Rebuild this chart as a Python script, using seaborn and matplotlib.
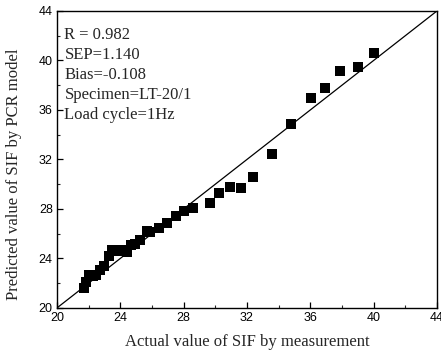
import matplotlib
matplotlib.use('Agg')
import matplotlib.pyplot as plt
import seaborn as sns
import pandas as pd

# Valores
actual = [21.7, 21.85, 22.05, 22.3, 22.5, 22.7, 22.95, 23.3, 23.5, 23.8,
          24.05, 24.4, 24.65, 24.9, 25.25, 25.7, 25.9, 26.45, 26.95, 27.5,
          28.0, 28.6, 29.65, 30.25, 30.95, 31.6, 32.35, 33.6, 34.75, 36.05,
          36.95, 37.9, 39.0, 40.0]
predicted = [21.6, 22.1, 22.7, 22.6, 22.7, 23.05, 23.4, 24.2, 24.7, 24.6,
             24.7, 24.5, 25.1, 25.2, 25.5, 26.2, 26.1, 26.5, 26.85, 27.45,
             27.8, 28.05, 28.45, 29.3, 29.8, 29.7, 30.6, 32.45, 34.85, 36.95,
             37.75, 39.15, 39.5, 40.6]
ideal = [20, 44]
ticks = [20, 24, 28, 32, 36, 40, 44]
minor_ticks = [22, 26, 30, 34, 38, 42]
info = ['R = 0.982', 'SEP=1.140', 'Bias=-0.108', 'Specimen=LT-20/1', 'Load cycle=1Hz']

df = pd.DataFrame({'Actual': actual, 'Predicted': predicted})

sns.set_style('ticks')
plt.rcParams['font.family'] = ['Liberation Sans', 'DejaVu Sans']

fig = plt.figure(figsize=(4.41, 3.52), dpi=100)
ax = fig.add_axes([0.129, 0.125, 0.862, 0.844])

ax.plot(ideal, ideal, color='black', linewidth=0.9, zorder=1)
sns.scatterplot(data=df, x='Actual', y='Predicted', marker='s', s=50,
                color='black', edgecolor='black', linewidth=0, ax=ax, zorder=2)

ax.set_xlim(20, 44)
ax.set_ylim(20, 44)
ax.set_xticks(ticks)
ax.set_yticks(ticks)
ax.set_xticks(minor_ticks, minor=True)
ax.set_yticks(minor_ticks, minor=True)
ax.tick_params(which='major', direction='in', length=4, width=0.9, labelsize=9, colors='black', pad=3)
ax.tick_params(which='minor', direction='in', length=2.5, width=0.8)
for sp in ax.spines.values():
    sp.set_linewidth(1.0)
    sp.set_color('black')

serif = ['Liberation Serif', 'DejaVu Serif']
ax.set_xlabel('Actual value of SIF by measurement', family=serif, fontsize=12, labelpad=7)
ax.set_ylabel('Predicted value of SIF by PCR model', family=serif, fontsize=12)
ax.yaxis.set_label_coords(-0.092, 0.45)

ax.text(0.02, 0.945, '\n'.join(info), transform=ax.transAxes, va='top', ha='left',
        family=serif, fontsize=12, linespacing=1.33)

plt.savefig('out.png', dpi=100)
plt.close()
